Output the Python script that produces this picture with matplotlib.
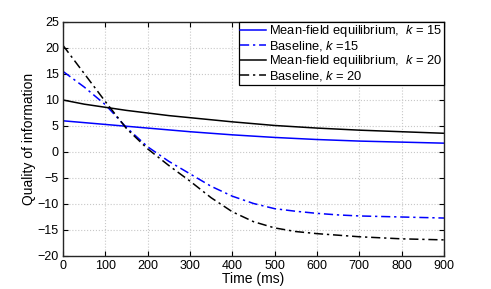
import numpy as np
import matplotlib
matplotlib.use('Agg')
import matplotlib.pyplot as plt

plt.rcParams['font.family'] = ['Liberation Sans', 'DejaVu Sans']
plt.rcParams['mathtext.fontset'] = 'custom'
plt.rcParams['mathtext.rm'] = 'Liberation Sans'
plt.rcParams['mathtext.it'] = 'Liberation Sans:italic'

# time axis (ms)
t = [0, 50, 100, 150, 200, 250, 300, 350, 400, 450, 500, 550, 600, 650, 700, 750, 800, 850, 900]

# mean-field equilibrium curves
mf_15 = [6.0, 5.65, 5.3, 4.95, 4.6, 4.25, 3.9, 3.6, 3.3, 3.05, 2.8, 2.6, 2.4, 2.25, 2.1, 2.0, 1.9, 1.8, 1.7]
mf_20 = [10.0, 9.2, 8.6, 8.0, 7.5, 7.0, 6.6, 6.2, 5.8, 5.45, 5.1, 4.85, 4.6, 4.4, 4.2, 4.05, 3.9, 3.75, 3.6]

# baseline curves
base_15 = [15.5, 12.5, 9.1, 4.7, 1.0, -1.8, -4.2, -6.6, -8.5, -9.9, -10.9, -11.4, -11.8, -12.1, -12.3, -12.4, -12.5, -12.6, -12.7]
base_20 = [20.5, 15.1, 9.7, 4.5, 0.6, -2.6, -5.6, -8.8, -11.5, -13.4, -14.6, -15.3, -15.7, -16.0, -16.3, -16.5, -16.7, -16.8, -16.9]

labels = [r'Mean-field equilibrium,  $\mathit{k}$ = $\mathit{15}$',
          r'Baseline, $\mathit{k}$ =$\mathit{15}$',
          r'Mean-field equilibrium,  $\mathit{k}$ = $\mathit{20}$',
          r'Baseline, $\mathit{k}$ = $\mathit{20}$']

dashdot = (0, (6, 2.5, 1.5, 2.5))

fig = plt.figure(figsize=(4.91, 2.89), dpi=100)
ax = fig.add_axes([63/491, 33/289, 381/491, 234/289])

ax.plot(t, mf_15, color='#0000ff', lw=1.1, label=labels[0])
ax.plot(t, base_15, color='#0000ff', lw=1.1, linestyle=dashdot, label=labels[1])
ax.plot(t, mf_20, color='black', lw=1.1, label=labels[2])
ax.plot(t, base_20, color='black', lw=1.1, linestyle=dashdot, label=labels[3])

ax.set_xlim(0, 900)
ax.set_ylim(-20, 25)
ax.set_xticks(np.arange(0, 901, 100))
ax.set_yticks(np.arange(-20, 26, 5))
ax.grid(True, linestyle=':', color='#c8c8c8', linewidth=0.8)
ax.tick_params(direction='in', top=True, right=True, labelsize=9, length=3.5, width=0.8, pad=3)
for s in ax.spines.values():
    s.set_linewidth(1.0)
    s.set_color('#262626')

ax.set_xlabel('Time (ms)', fontsize=10, labelpad=0)
ax.set_ylabel('Quality of information', fontsize=10, labelpad=1)

leg = ax.legend(loc='upper right', fontsize=9.3, fancybox=False, framealpha=1,
                edgecolor='black', borderaxespad=0, handlelength=2.0,
                labelspacing=0.0, borderpad=0.1, handletextpad=0.25)
leg.get_frame().set_linewidth(0.9)

fig.savefig('out.png', dpi=100)
